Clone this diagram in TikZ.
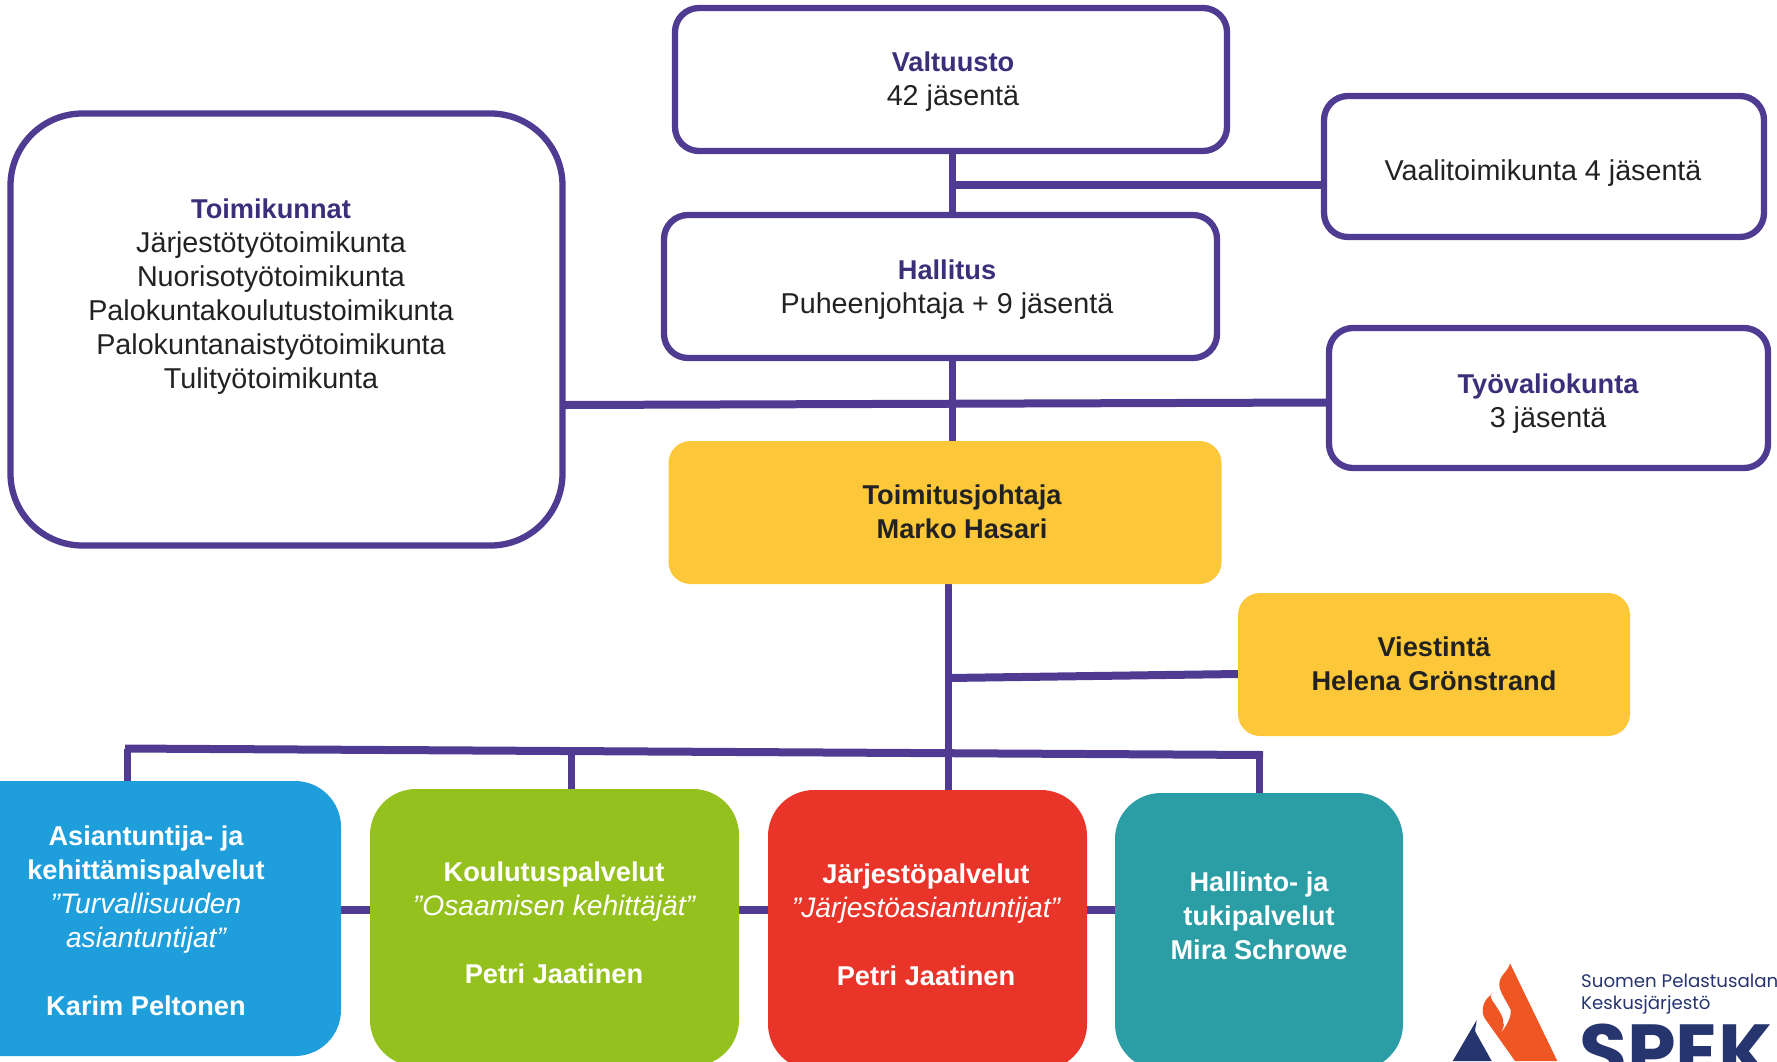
\documentclass[tikz,border=0pt]{standalone}
\usepackage{fontspec}
\setmainfont{Liberation Sans}
\newfontfamily\logofont{Poppins}
\usetikzlibrary{backgrounds}
\definecolor{linepurple}{HTML}{4F3C92}
\definecolor{titlepurple}{HTML}{3D2E7A}
\definecolor{bodytext}{HTML}{222222}
\definecolor{boxyellow}{HTML}{FDC73A}
\definecolor{boxblue}{HTML}{1E9EDB}
\definecolor{boxgreen}{HTML}{95C11F}
\definecolor{boxred}{HTML}{E93529}
\definecolor{boxteal}{HTML}{2A9DA5}
\definecolor{logoorange}{HTML}{EE5623}
\definecolor{logonavy}{HTML}{27356F}
\tikzset{
  outlinebox/.style={draw=linepurple,line width=6.3pt,fill=white,rounded corners=24pt,inner sep=0pt},
  filledbox/.style={rounded corners=#1,inner sep=0pt,draw=none},
  conn/.style={draw=linepurple,line width=7pt},
  connthick/.style={draw=linepurple,line width=8pt},
  label/.style={align=center,font=\fontsize{28.7}{34}\selectfont,text=bodytext,inner sep=0pt},
  whitelabel/.style={label,text=white},
  logotext/.style={anchor=base west,inner sep=0pt,text=logonavy},
}
\newcommand{\bd}[1]{{\fontsize{27.2}{34}\selectfont\bfseries #1}}
\newcommand{\ita}[1]{{\fontsize{28.2}{34}\selectfont\itshape #1}}
\newcommand{\ttl}[1]{{\color{titlepurple}\bd{#1}}}
\begin{document}
\begin{tikzpicture}[x=1pt,y=-1pt]
\useasboundingbox (0,0) rectangle (1777,1061);
% boxes
\node[outlinebox,minimum width=552pt,minimum height=143pt] (valt) at (951,79.5) {};
\node[outlinebox,minimum width=553pt,minimum height=143pt] (hall) at (940.5,286.5) {};
\node[outlinebox,rounded corners=72pt,minimum width=552pt,minimum height=432pt] (toim) at (286.5,329.5) {};
\node[outlinebox,minimum width=440pt,minimum height=141pt] (vaali) at (1544,166.5) {};
\node[outlinebox,minimum width=439pt,minimum height=140pt] (tyo) at (1548.5,398) {};
\node[filledbox=22pt,fill=boxyellow,minimum width=553pt,minimum height=143pt] (tj) at (945,512.5) {};
\node[filledbox=22pt,fill=boxyellow,minimum width=392pt,minimum height=143pt] (viest) at (1434,664.5) {};
\node[filledbox=46pt,fill=boxblue,minimum width=386pt,minimum height=275pt] (blue) at (148,918.5) {};
\node[filledbox=46pt,fill=boxgreen,minimum width=369pt,minimum height=277pt] (green) at (554.5,927.5) {};
\node[filledbox=46pt,fill=boxred,minimum width=319pt,minimum height=280pt] (red) at (927.5,930) {};
\node[filledbox=46pt,fill=boxteal,minimum width=288pt,minimum height=277pt] (teal) at (1259,931.5) {};
% junctions
\coordinate (jvaali) at (952,185);
\coordinate (jtyoL) at (565,405);
\coordinate (jtyoR) at (1326,402.5);
\coordinate (jviestL) at (948,678);
\coordinate (jviestR) at (1238,674);
\coordinate (busL) at (125,748.5);
\coordinate (busR) at (1263,755);
\coordinate (busA) at (127.5,749);
\coordinate (busB) at (571,751);
\coordinate (busC) at (948.5,753.5);
\coordinate (busD) at (1259.5,755);
\coordinate (midL) at (341,910);
\coordinate (midR) at (1115,910);
\begin{pgfonlayer}{background}
\draw[conn] (952,0 |- valt.south) -- (952,0 |- hall.north);
\draw[conn] (952,0 |- hall.south) -- (952,0 |- tj.north);
\draw[connthick] (jvaali) -- (vaali.west |- jvaali);
\draw[connthick] (jtyoL) -- (jtyoR);
\draw[conn] (948.5,0 |- tj.south) -- (948.5,0 |- red.north);
\draw[connthick] (jviestL) -- (jviestR);
\draw[connthick] (busL) -- (busR);
\draw[conn] (busA) -- (busA |- blue.north);
\draw[conn] (busB) -- (busB |- green.north);
\draw[conn] (busC) -- (busC |- red.north);
\draw[conn] (busD) -- (busD |- teal.north);
\draw[connthick] (midL) -- (midR);
\end{pgfonlayer}
% labels
\node[label] (tvalt) at (953,81.5) {\ttl{Valtuusto}\\42 jäsentä};
\node[label] (thall) at (947,289.5) {\ttl{Hallitus}\\Puheenjohtaja + 9 jäsentä};
\node[label] (ttoim) at (271,297) {\ttl{Toimikunnat}\\Järjestötyötoimikunta\\Nuorisotyötoimikunta\\Palokuntakoulutustoimikunta\\Palokuntanaistyötoimikunta\\Tulityötoimikunta};
\node[label] (tvaali) at (1543,173.5) {Vaalitoimikunta 4 jäsentä};
\node[label] (ttyo) at (1548,403.5) {\ttl{Työvaliokunta}\\3 jäsentä};
\node[label] (ttj) at (962,512) {\bd{Toimitusjohtaja}\\\bd{Marko Hasari}};
\node[label] (tviest) at (1434,664) {\bd{Viestintä}\\\bd{Helena Grönstrand}};
\node[whitelabel] (tblue) at (146,921) {\bd{Asiantuntija- ja}\\\bd{kehittämispalvelut}\\\ita{”Turvallisuuden}\\\ita{asiantuntijat”}\\[34pt]\bd{Karim Peltonen}};
\node[whitelabel] (tgreen) at (554,923) {\bd{Koulutuspalvelut}\\\ita{”Osaamisen kehittäjät”}\\[34pt]\bd{Petri Jaatinen}};
\node[whitelabel] (tred) at (926,925) {\bd{Järjestöpalvelut}\\\ita{”Järjestöasiantuntijat”}\\[34pt]\bd{Petri Jaatinen}};
\node[whitelabel] (tteal) at (1259,916) {\bd{Hallinto- ja}\\\bd{tukipalvelut}\\\bd{Mira Schrowe}};
% logo
\fill[logonavy] (1476.7,1020) .. controls (1476,1027) and (1474,1030) .. (1476,1033) -- (1491.7,1061) -- (1452.7,1061) -- cycle;
\fill[logoorange] (1510,963.3) .. controls (1508,972) and (1499,975) .. (1499.3,985)
  .. controls (1499.5,992) and (1506,1000) .. (1510.7,1010)
  .. controls (1511.5,1018) and (1506,1026) .. (1500,1034.3)
  .. controls (1503,1028) and (1505,1025) .. (1503.3,1023.3)
  .. controls (1504,1018) and (1500,1012) .. (1494,1003)
  .. controls (1489,996) and (1490,995) .. (1493.3,991.7)
  .. controls (1490,997) and (1483.3,999) .. (1482.7,1010)
  .. controls (1482.7,1015) and (1484,1017) .. (1485,1018.7)
  -- (1515,1061) -- (1557.3,1061) -- cycle;
\node[logotext,font=\logofont\fontsize{18.2}{24}\selectfont] (lg1) at (1581,987) {Suomen Pelastusalan};
\node[logotext,font=\logofont\fontsize{18.2}{24}\selectfont] (lg2) at (1581,1009) {Keskusjärjestö};
\node[logotext,font=\logofont\bfseries\fontsize{78}{78}\selectfont] (lg3) at (1579,1079.5) {SPEK};
\end{tikzpicture}
\end{document}
